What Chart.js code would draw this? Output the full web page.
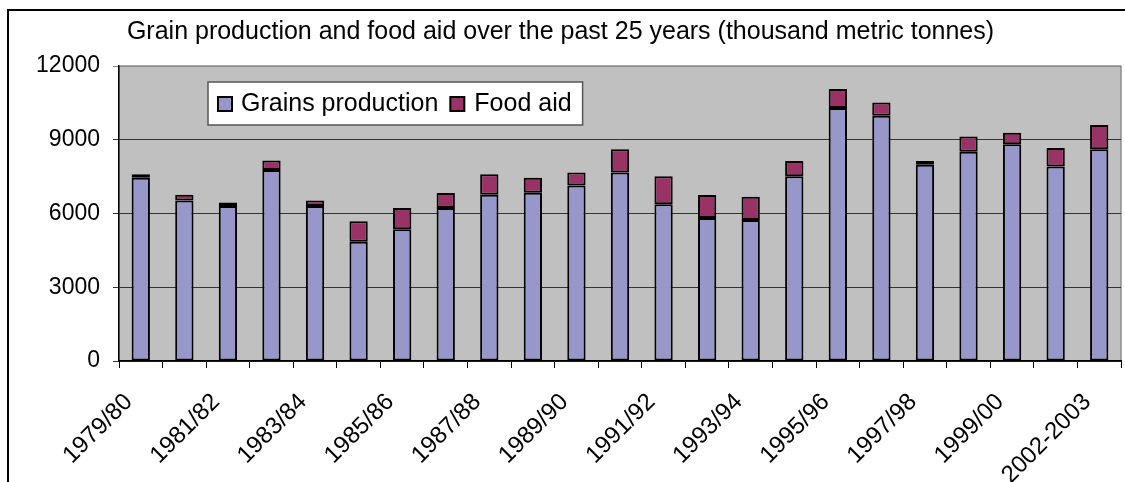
<!DOCTYPE html>
<html>
<head>
<meta charset="utf-8">
<script src="https://cdn.jsdelivr.net/npm/chart.js@4.4.1/dist/chart.umd.min.js"></script>
<style>
  body { margin: 0; background: #fff; }
  #wrap { width: 1125px; height: 482px; }
</style>
</head>
<body>
<div id="wrap"><canvas id="myChart" width="1125" height="482"></canvas></div>
<script>
// Dados
var seasons = ['1979/80', '1980/81', '1981/82', '1982/83', '1983/84', '1984/85', '1985/86',
    '1986/87', '1987/88', '1988/89', '1989/90', '1990/91', '1991/92', '1992/93', '1993/94',
    '1994/95', '1995/96', '1996/97', '1997/98', '1998/99', '1999/00', '2000/01', '2002-2003'];

var grains = [7450, 6530, 6310, 7770, 6310, 4850, 5360, 6220, 6760, 6840, 7140, 7670,
    6380, 5820, 5740, 7520, 10290, 9980, 7980, 8510, 8820, 7910, 8610];

var foodAid = [150, 230, 140, 390, 220, 830, 860, 610, 840, 610, 530, 940,
    1140, 930, 940, 620, 770, 540, 160, 620, 460, 750, 990];

var yTicks = [0, 3000, 6000, 9000, 12000];

var fonte = "'Liberation Sans', Arial, sans-serif";
Chart.defaults.font.family = fonte;
Chart.defaults.color = '#000';

// fundo cinza + moldura
const fundo = {
    id: 'fundo',
    beforeDraw(chart) {
        const c = chart.ctx, a = chart.chartArea;
        c.save();
        c.fillStyle = '#fff';
        c.fillRect(0, 0, chart.width, chart.height);
        c.strokeStyle = '#000';
        c.lineWidth = 2;
        c.beginPath();
        c.moveTo(8, chart.height);
        c.lineTo(8, 10);
        c.lineTo(chart.width, 10);
        c.stroke();
        c.fillStyle = '#c0c0c0';
        c.fillRect(a.left, a.top, a.right - a.left, a.bottom - a.top);
        c.strokeStyle = '#8c8c8c';
        c.lineWidth = 1.5;
        c.strokeRect(a.left, a.top, a.right - a.left, a.bottom - a.top);
        c.restore();
    }
};

// legenda dentro da area
const legenda = {
    id: 'legenda',
    afterDraw(chart) {
        const c = chart.ctx, a = chart.chartArea;
        const ds = chart.data.datasets;
        c.save();
        c.font = '25px ' + fonte;
        const w0 = c.measureText(ds[0].label).width;
        const w1 = c.measureText(ds[1].label).width;
        const x = a.left + 89, y = a.top + 16;
        const w = 10 + 14 + 9 + w0 + 12 + 14 + 10 + w1 + 11;
        const h = 43;
        c.fillStyle = '#fff';
        c.fillRect(x, y, w, h);
        c.strokeStyle = '#555';
        c.lineWidth = 1.5;
        c.strokeRect(x, y, w, h);
        let px = x + 10;
        const my = y + 15;
        for (let i = 0; i < 2; i++) {
            c.fillStyle = ds[i].backgroundColor;
            c.fillRect(px, my, 14, 14);
            c.strokeStyle = '#000';
            c.lineWidth = 2;
            c.strokeRect(px, my, 14, 14);
            px += 14 + (i == 0 ? 9 : 10);
            c.fillStyle = '#000';
            c.textBaseline = 'middle';
            c.fillText(ds[i].label, px, y + h / 2 + 1);
            px += (i == 0 ? w0 : w1) + 12;
        }
        c.restore();
    }
};

const data = {
    labels: seasons,
    datasets: [{
        label: 'Grains production',
        data: grains,
        backgroundColor: '#9797c9',
        borderColor: '#000',
        borderWidth: 2,
        borderSkipped: false
    }, {
        label: 'Food aid',
        data: foodAid,
        backgroundColor: '#993366',
        borderColor: '#000',
        borderWidth: 2,
        borderSkipped: false
    }]
};

const config = {
    type: 'bar',
    data,
    options: {
        responsive: false,
        animation: false,
        devicePixelRatio: 1,
        layout: { padding: { left: 0, right: 4, top: 0, bottom: 0 } },
        datasets: { bar: { categoryPercentage: 1, barPercentage: 0.42 } },
        plugins: {
            legend: { display: false },
            tooltip: { enabled: false },
            title: {
                display: true,
                text: 'Grain production and food aid over the past 25 years (thousand metric tonnes)',
                color: '#000',
                font: { size: 25, weight: 'normal' },
                padding: { top: 17, bottom: 19 }
            }
        },
        scales: {
            x: {
                stacked: true,
                afterFit(s) { s.height = 121; s.paddingLeft = 0; s.paddingRight = 0; },
                grid: { offset: true, drawOnChartArea: false, tickLength: 7, color: '#000' },
                border: { color: '#000', width: 1.5 },
                ticks: {
                    autoSkip: false,
                    maxRotation: 45,
                    minRotation: 45,
                    padding: 20,
                    labelOffset: -12,
                    font: { size: 24 },
                    callback: function (v, i) { return i % 2 == 0 ? this.getLabelForValue(v) : ''; }
                }
            },
            y: {
                stacked: true,
                min: 0,
                max: 12000,
                afterFit(s) { s.width = 119; },
                afterBuildTicks(s) { s.ticks = yTicks.map(v => ({ value: v })); },
                grid: {
                    color: ctx => ctx.tick && ctx.tick.value == 12000 ? '#8c8c8c' : '#333',
                    lineWidth: 1,
                    tickLength: 6
                },
                border: { color: '#000', width: 1.5 },
                ticks: { padding: 13, font: { size: 23 }, callback: v => String(v) }
            }
        }
    },
    plugins: [fundo, legenda]
};

var myChart = new Chart(document.getElementById('myChart'), config);
</script>
</body>
</html>
